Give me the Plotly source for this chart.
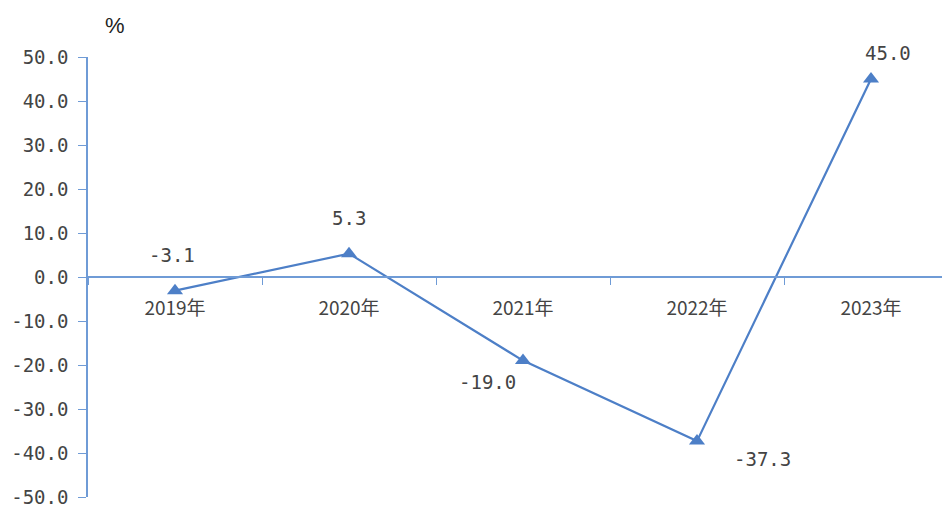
import plotly.graph_objects as go

years = ["2019年", "2020年", "2021年", "2022年", "2023年"]
values = [-3.1, 5.3, -19.0, -37.3, 45.0]
label_text = ["-3.1", "5.3", "-19.0", "-37.3", "45.0"]
label_dx = [-3, 0, -36, 65, 17]
label_dy = [36, 36, -21, -18, 26]

y_ticks = [50, 40, 30, 20, 10, 0, -10, -20, -30, -40, -50]
y_tick_text = ["50.0", "40.0", "30.0", "20.0", "10.0", "0.0",
               "-10.0", "-20.0", "-30.0", "-40.0", "-50.0"]

line_color = "#4d7fc7"
axis_color = "#6f9bd6"
text_color = "#444444"
num_font = "DejaVu Sans Mono, Liberation Mono, monospace"
cjk_font = "Noto Sans CJK SC, sans-serif"

fig = go.Figure()
fig.add_trace(go.Scatter(
    x=years, y=values, mode="lines+markers",
    line=dict(color=line_color, width=2.2),
    marker=dict(symbol="triangle-up", size=14, color=line_color),
    showlegend=False, hoverinfo="skip",
))

for x, v, t, dx, dy in zip(years, values, label_text, label_dx, label_dy):
    fig.add_annotation(x=x, y=v, text=t, showarrow=False,
                       xshift=dx, yshift=dy,
                       font=dict(family=num_font, size=19, color=text_color))

fig.add_annotation(xref="paper", yref="paper", x=0.031, y=1.0, yshift=32,
                   xanchor="center", yanchor="middle",
                   text="%", showarrow=False,
                   font=dict(family="Liberation Sans, Arial, sans-serif", size=22, color="#222222"))

fig.update_layout(
    width=942, height=500,
    margin=dict(l=80, r=0, t=49, b=8),
    paper_bgcolor="white", plot_bgcolor="white",
    xaxis=dict(
        type="category", range=[-0.5, 4.454],
        anchor="free", position=0.5,
        showline=True, linecolor=axis_color, linewidth=1.5,
        ticks="outside", tickson="boundaries", ticklen=7, tickcolor=axis_color,
        ticklabelstandoff=14,
        showgrid=False, zeroline=False,
        tickfont=dict(family=cjk_font, size=19, color=text_color),
    ),
    yaxis=dict(
        range=[-50, 50], tickvals=y_ticks, ticktext=y_tick_text,
        showline=True, linecolor=axis_color, linewidth=1.5,
        ticks="outside", ticklen=8, tickcolor=axis_color,
        ticklabelstandoff=6, ticklabeloverflow="allow",
        showgrid=False, zeroline=False,
        tickfont=dict(family=num_font, size=19, color=text_color),
    ),
)

fig.write_html("out.html")
